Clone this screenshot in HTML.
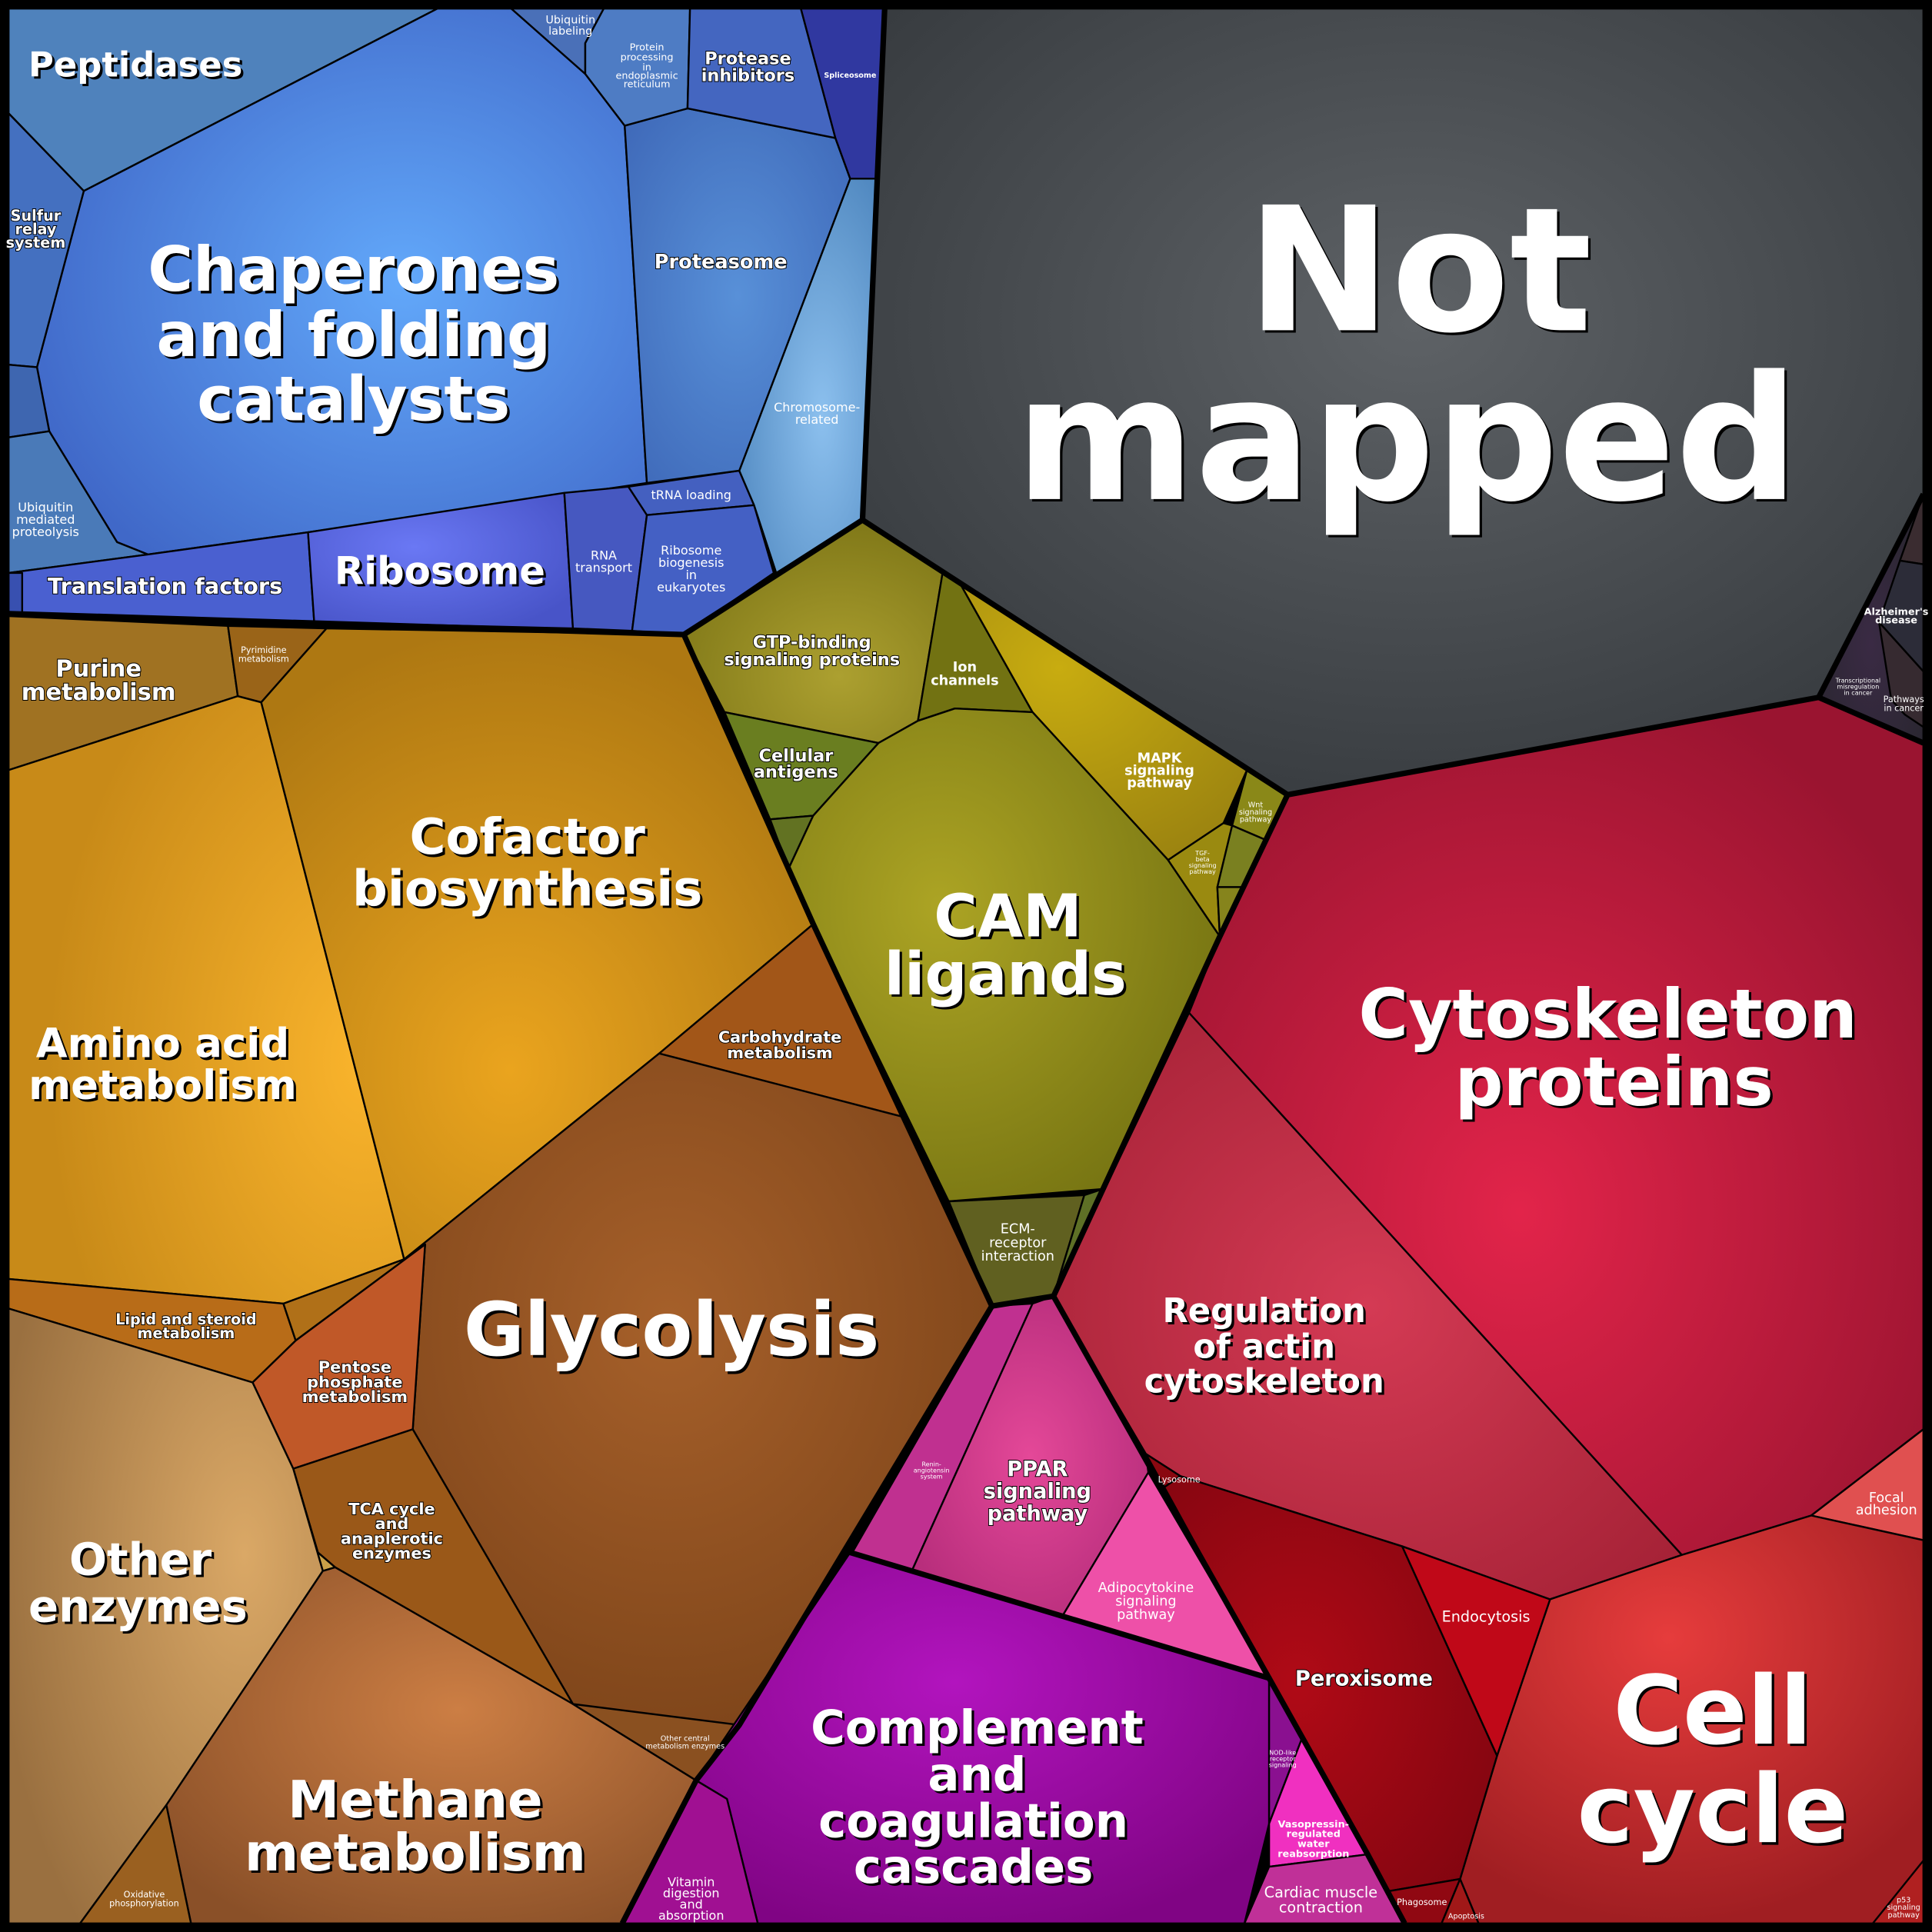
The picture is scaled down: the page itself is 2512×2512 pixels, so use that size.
<!DOCTYPE html>
<html><head><meta charset="utf-8"><style>
html,body{margin:0;padding:0;background:#000}
svg{display:block}
text{font-family:"DejaVu Sans","Liberation Sans",sans-serif;font-weight:bold;fill:#fff;text-anchor:middle}
.sh{fill:#000}
</style></head><body>
<svg width="2512" height="2512" viewBox="0 0 1568 1568" xmlns="http://www.w3.org/2000/svg">
<defs>
<radialGradient id="gNM" cx="0.52" cy="0.4" r="0.7"><stop offset="0" stop-color="#5e6266"/><stop offset="1" stop-color="#34383c"/></radialGradient>
<radialGradient id="gCh" cx="0.6" cy="0.5" r="0.65"><stop offset="0" stop-color="#62a8fa"/><stop offset="1" stop-color="#4068c8"/></radialGradient>
<radialGradient id="gBl" cx="0.5" cy="0.5" r="0.7"><stop offset="0" stop-color="#5890d8"/><stop offset="1" stop-color="#3e68b8"/></radialGradient>
<radialGradient id="gCr" cx="0.6" cy="0.6" r="0.7"><stop offset="0" stop-color="#8cc0ee"/><stop offset="1" stop-color="#5088c0"/></radialGradient>
<radialGradient id="gRb" cx="0.4" cy="0.4" r="0.7"><stop offset="0" stop-color="#6a78f4"/><stop offset="1" stop-color="#4854c8"/></radialGradient>
<radialGradient id="gAm" cx="0.9" cy="0.6" r="0.8"><stop offset="0" stop-color="#fab42c"/><stop offset="1" stop-color="#c88a18"/></radialGradient>
<radialGradient id="gCo" cx="0.45" cy="0.7" r="0.7"><stop offset="0" stop-color="#eaa41e"/><stop offset="1" stop-color="#ae7812"/></radialGradient>
<radialGradient id="gGl" cx="0.45" cy="0.4" r="0.7"><stop offset="0" stop-color="#a6602a"/><stop offset="1" stop-color="#7a4218"/></radialGradient>
<radialGradient id="gOE" cx="0.75" cy="0.4" r="0.8"><stop offset="0" stop-color="#daa866"/><stop offset="1" stop-color="#9a7040"/></radialGradient>
<radialGradient id="gMe" cx="0.55" cy="0.4" r="0.7"><stop offset="0" stop-color="#cc7e44"/><stop offset="1" stop-color="#8a5028"/></radialGradient>
<radialGradient id="gCAM" cx="0.35" cy="0.4" r="0.7"><stop offset="0" stop-color="#aca424"/><stop offset="1" stop-color="#767412"/></radialGradient>
<radialGradient id="gGTP" cx="0.6" cy="0.7" r="0.7"><stop offset="0" stop-color="#aca030"/><stop offset="1" stop-color="#807818"/></radialGradient>
<radialGradient id="gMA" cx="0.3" cy="0.3" r="0.8"><stop offset="0" stop-color="#c8ac10"/><stop offset="1" stop-color="#9a8210"/></radialGradient>
<radialGradient id="gPP" cx="0.5" cy="0.5" r="0.7"><stop offset="0" stop-color="#e44898"/><stop offset="1" stop-color="#ae2876"/></radialGradient>
<radialGradient id="gCp" cx="0.45" cy="0.35" r="0.7"><stop offset="0" stop-color="#b214be"/><stop offset="1" stop-color="#800484"/></radialGradient>
<radialGradient id="gCy" cx="0.45" cy="0.6" r="0.65"><stop offset="0" stop-color="#e2244a"/><stop offset="1" stop-color="#9a1430"/></radialGradient>
<radialGradient id="gRA" cx="0.5" cy="0.5" r="0.7"><stop offset="0" stop-color="#d43a54"/><stop offset="1" stop-color="#a22034"/></radialGradient>
<radialGradient id="gCC" cx="0.45" cy="0.3" r="0.7"><stop offset="0" stop-color="#e63c3c"/><stop offset="1" stop-color="#a01e22"/></radialGradient>
<radialGradient id="gPx" cx="0.4" cy="0.5" r="0.7"><stop offset="0" stop-color="#b00a16"/><stop offset="1" stop-color="#820510"/></radialGradient>
<radialGradient id="gDk" cx="0.5" cy="0.6" r="0.7"><stop offset="0" stop-color="#3a2a44"/><stop offset="1" stop-color="#28262e"/></radialGradient>
</defs>
<rect width="1568" height="1568" fill="#000"/>
<g stroke="#000" stroke-width="1.5" stroke-linejoin="round">
<polygon fill="url(#gNM)" points="718,7 1561,7 1561,401 1476,566 1045,645 780,475 700,422 712,145"/>
<polygon fill="url(#gDk)" points="1561,401 1561,603 1476,566"/>
<polygon fill="#3a2c30" points="1561,401 1561,458 1542,455"/>
<polygon fill="#2c2c38" points="1542,455 1561,458 1561,545 1525,505"/>
<polygon fill="#362a30" points="1525,505 1561,545 1561,590 1546,580 1535,568"/>
<!-- Blue group -->
<polygon fill="#4f82bc" points="7,7 355,7 68,155 7,92"/>
<polygon fill="url(#gCh)" points="68,155 355,7 415,7 475,60 507,102 525,392 250,432 120,450 95,440 40,350 30,298"/>
<polygon fill="#4470c0" points="7,92 68,155 30,298 7,296"/>
<polygon fill="#3e66b0" points="7,296 30,298 40,350 7,355"/>
<polygon fill="#4a7ab8" points="7,355 40,350 95,440 120,450 7,465"/>
<polygon fill="#4a60d0" points="7,465 120,450 250,432 255,505 7,500"/>
<polygon fill="#3850b0" points="7,465 18,465 18,500 7,500"/>
<polygon fill="url(#gRb)" points="250,432 458,400 465,510 255,505"/>
<polygon fill="#4658c0" points="458,400 510,395 525,418 513,512 465,510"/>
<polygon fill="#4460c0" points="510,395 600,382 612,410 525,418"/>
<polygon fill="#4460c4" points="525,418 612,410 628,465 555,515 513,512"/>
<polygon fill="url(#gCr)" points="600,382 690,145 712,145 700,422 630,465 612,410"/>
<polygon fill="url(#gBl)" points="507,102 558,88 678,112 690,145 600,382 525,392"/>
<polygon fill="#4a70b8" points="415,7 490,7 475,35 475,60"/>
<polygon fill="#4e7cc4" points="475,35 490,7 560,7 558,88 507,102 475,60"/>
<polygon fill="#4466c0" points="560,7 650,7 678,112 558,88"/>
<polygon fill="#3038a0" points="650,7 718,7 712,145 690,145 678,112"/>
<!-- Orange group -->
<polygon fill="#a07222" points="7,500 185,508 193,565 7,625"/>
<polygon fill="#9a6418" points="185,508 265,510 212,570 193,565"/>
<polygon fill="url(#gAm)" points="7,625 193,565 212,570 328,1022 230,1058 7,1038"/>
<polygon fill="url(#gCo)" points="212,570 265,510 555,515 660,750 535,855 328,1022"/>
<polygon fill="#a25618" points="535,855 660,750 735,907"/>
<polygon fill="url(#gGl)" points="328,1022 535,855 735,907 805,1060 600,1400 515,1395 465,1383 335,1160 345,1010"/>
<polygon fill="#b86c18" points="7,1038 230,1058 240,1088 205,1122 7,1062"/>
<polygon fill="#b07018" points="230,1058 328,1022 345,1010 240,1088"/>
<polygon fill="#c05828" points="205,1122 240,1088 345,1010 335,1160 238,1192"/>
<polygon fill="#9a5818" points="238,1192 335,1160 465,1383 272,1272 258,1260"/>
<polygon fill="#c8a048" points="238,1192 258,1260 272,1272 262,1275"/>
<polygon fill="url(#gOE)" points="7,1062 205,1122 238,1192 262,1275 135,1465 65,1561 7,1561"/>
<polygon fill="url(#gMe)" points="272,1272 465,1383 565,1445 505,1561 155,1561 135,1465 262,1275"/>
<polygon fill="#9a6020" points="135,1465 155,1561 65,1561"/>
<polygon fill="#8a5020" points="465,1383 600,1400 565,1445"/>
<!-- Olive group -->
<polygon fill="url(#gGTP)" points="555,515 700,422 765,465 745,585 713,603 588,578"/>
<polygon fill="#727212" points="765,465 780,475 838,578 775,575 745,585"/>
<polygon fill="url(#gMA)" points="780,475 1045,645 1012,625 993,668 948,698 838,578"/>
<polygon fill="#6a7e20" points="588,578 713,603 660,662 625,665"/>
<polygon fill="#627222" points="625,665 660,662 640,705"/>
<polygon fill="url(#gCAM)" points="713,603 745,585 775,575 838,578 948,698 990,760 895,965 770,975 660,750 640,705 660,662"/>
<polygon fill="#8a8818" points="1012,625 1045,645 1028,682 1000,670"/>
<polygon fill="#9a8a10" points="948,698 993,668 1000,670 988,720 990,760"/>
<polygon fill="#7a8020" points="1000,670 1028,682 1010,720 988,720"/>
<polygon fill="#86841c" points="988,720 1010,720 990,760"/>
<polygon fill="#606020" points="770,975 880,970 855,1052 805,1060"/>
<polygon fill="#5e7026" points="880,970 895,965 855,1052"/>
<!-- Pink group -->
<polygon fill="#c03090" points="805,1060 838,1058 740,1275 690,1260"/>
<polygon fill="url(#gPP)" points="838,1058 855,1052 930,1180 932,1195 862,1312 740,1275"/>
<polygon fill="#ee50a8" points="932,1195 1030,1362 862,1312"/>
<!-- Purple group -->
<polygon fill="url(#gCp)" points="690,1260 1030,1362 1030,1480 1010,1561 615,1561 590,1460 565,1445"/>
<polygon fill="#a01092" points="565,1445 590,1460 615,1561 505,1561"/>
<polygon fill="#8a1090" points="1030,1362 1057,1410 1030,1480"/>
<polygon fill="#f030c0" points="1057,1410 1110,1505 1030,1515 1030,1480"/>
<polygon fill="#c03098" points="1030,1515 1110,1505 1140,1561 1010,1561"/>
<!-- Red group -->
<polygon fill="url(#gCy)" points="1045,645 1476,566 1561,603 1561,1160 1470,1230 1365,1262 965,822 990,760"/>
<polygon fill="url(#gRA)" points="965,822 1365,1262 1258,1298 1138,1255 958,1198 930,1180 855,1052"/>
<polygon fill="#e05050" points="1470,1230 1561,1160 1561,1250"/>
<polygon fill="url(#gCC)" points="1258,1298 1365,1262 1470,1230 1561,1250 1561,1561 1200,1561 1185,1525 1215,1425"/>
<polygon fill="#8a0810" points="930,1180 958,1198 945,1207"/>
<polygon fill="url(#gPx)" points="945,1207 958,1198 1138,1255 1215,1425 1185,1525 1126,1535 1110,1505 1030,1362"/>
<polygon fill="#c00818" points="1138,1255 1258,1298 1215,1425"/>
<polygon fill="#900812" points="1126,1535 1185,1525 1170,1561 1140,1561"/>
<polygon fill="#a01818" points="1170,1561 1185,1525 1200,1561"/>
<polygon fill="#b02020" points="1520,1561 1561,1510 1561,1561"/>
</g>
<g fill="none" stroke="#000" stroke-width="4.5" stroke-linejoin="round">
<polyline points="7,498 555,515 700,422 712,145 718,7"/>
<polyline points="555,515 660,750 805,1060 855,1052 990,760 1045,645 700,422"/>
<polyline points="1045,645 1476,566 1561,603"/>
<polyline points="1476,566 1561,401"/>
<polyline points="805,1060 600,1400 565,1445 505,1561"/>
<polyline points="690,1260 1030,1362 1110,1505 1140,1561"/>
<polyline points="855,1052 1030,1362"/>
<polyline points="805,1060 690,1260"/>
</g>
<rect x="3.5" y="3.5" width="1561" height="1561" fill="none" stroke="#000" stroke-width="7"/>
<g id="labels">
<g transform="translate(2,2)">
<text class="sh" x="1152" y="268" font-size="140">Not</text>
<text class="sh" x="1142" y="405" font-size="140">mapped</text>
<text class="sh" x="287" y="236" font-size="50">Chaperones</text>
<text class="sh" x="287" y="289" font-size="50">and folding</text>
<text class="sh" x="287" y="341" font-size="50">catalysts</text>
<text class="sh" x="1305" y="842" font-size="55">Cytoskeleton</text>
<text class="sh" x="1310" y="897" font-size="55">proteins</text>
<text class="sh" x="1390" y="1415" font-size="77">Cell</text>
<text class="sh" x="1390" y="1495" font-size="77">cycle</text>
<text class="sh" x="545" y="1100" font-size="60">Glycolysis</text>
<text class="sh" x="818" y="760" font-size="48">CAM</text>
<text class="sh" x="816" y="807" font-size="48">ligands</text>
<text class="sh" x="793" y="1415" font-size="38">Complement</text>
<text class="sh" x="793" y="1453" font-size="38">and</text>
<text class="sh" x="790" y="1491" font-size="38">coagulation</text>
<text class="sh" x="790" y="1528" font-size="38">cascades</text>
<text class="sh" x="428" y="693" font-size="40">Cofactor</text>
<text class="sh" x="428" y="735" font-size="40">biosynthesis</text>
<text class="sh" x="132" y="858" font-size="33">Amino acid</text>
<text class="sh" x="132" y="892" font-size="33">metabolism</text>
<text class="sh" x="337" y="1475" font-size="42">Methane</text>
<text class="sh" x="337" y="1518" font-size="42">metabolism</text>
<text class="sh" x="114" y="1278" font-size="36">Other</text>
<text class="sh" x="112" y="1316" font-size="36">enzymes</text>
<text class="sh" x="1026" y="1073" font-size="27">Regulation</text>
<text class="sh" x="1026" y="1102" font-size="27">of actin</text>
<text class="sh" x="1026" y="1130" font-size="27">cytoskeleton</text>
<text class="sh" x="357" y="474" font-size="31">Ribosome</text>
<text class="sh" x="110" y="62" font-size="28">Peptidases</text>
</g>
<text x="1152" y="268" font-size="140">Not</text>
<text x="1142" y="405" font-size="140">mapped</text>
<text x="287" y="236" font-size="50">Chaperones</text>
<text x="287" y="289" font-size="50">and folding</text>
<text x="287" y="341" font-size="50">catalysts</text>
<text x="1305" y="842" font-size="55">Cytoskeleton</text>
<text x="1310" y="897" font-size="55">proteins</text>
<text x="1390" y="1415" font-size="77">Cell</text>
<text x="1390" y="1495" font-size="77">cycle</text>
<text x="545" y="1100" font-size="60">Glycolysis</text>
<text x="818" y="760" font-size="48">CAM</text>
<text x="816" y="807" font-size="48">ligands</text>
<text x="793" y="1415" font-size="38">Complement</text>
<text x="793" y="1453" font-size="38">and</text>
<text x="790" y="1491" font-size="38">coagulation</text>
<text x="790" y="1528" font-size="38">cascades</text>
<text x="428" y="693" font-size="40">Cofactor</text>
<text x="428" y="735" font-size="40">biosynthesis</text>
<text x="132" y="858" font-size="33">Amino acid</text>
<text x="132" y="892" font-size="33">metabolism</text>
<text x="337" y="1475" font-size="42">Methane</text>
<text x="337" y="1518" font-size="42">metabolism</text>
<text x="114" y="1278" font-size="36">Other</text>
<text x="112" y="1316" font-size="36">enzymes</text>
<text x="1026" y="1073" font-size="27">Regulation</text>
<text x="1026" y="1102" font-size="27">of actin</text>
<text x="1026" y="1130" font-size="27">cytoskeleton</text>
<text x="357" y="474" font-size="31">Ribosome</text>
<text x="110" y="62" font-size="28">Peptidases</text>
<g style="paint-order:stroke" stroke="#000" stroke-width="1.2">
<text x="134" y="482" font-size="18">Translation factors</text>
<text x="585" y="218" font-size="16">Proteasome</text>
<text x="607" y="52" font-size="14">Protease</text>
<text x="607" y="66" font-size="14">inhibitors</text>
<text x="80" y="549" font-size="19">Purine</text>
<text x="80" y="568" font-size="19">metabolism</text>
<text x="1107" y="1368" font-size="17">Peroxisome</text>
<text x="842" y="1198" font-size="17">PPAR</text>
<text x="842" y="1216" font-size="17">signaling</text>
<text x="842" y="1234" font-size="17">pathway</text>
<text x="659" y="526" font-size="14">GTP-binding</text>
<text x="659" y="540" font-size="14">signaling proteins</text>
<text x="646" y="618" font-size="14">Cellular</text>
<text x="646" y="631" font-size="14">antigens</text>
<text x="633" y="846" font-size="13">Carbohydrate</text>
<text x="633" y="859" font-size="13">metabolism</text>
<text x="288" y="1114" font-size="13">Pentose</text>
<text x="288" y="1126" font-size="13">phosphate</text>
<text x="288" y="1138" font-size="13">metabolism</text>
<text x="318" y="1229" font-size="13">TCA cycle</text>
<text x="318" y="1241" font-size="13">and</text>
<text x="318" y="1253" font-size="13">anaplerotic</text>
<text x="318" y="1265" font-size="13">enzymes</text>
<text x="151" y="1075" font-size="12">Lipid and steroid</text>
<text x="151" y="1086" font-size="12">metabolism</text>
<text x="29" y="179" font-size="12">Sulfur</text>
<text x="29" y="190" font-size="12">relay</text>
<text x="29" y="201" font-size="12">system</text>
</g>
<g>
<text x="1072" y="1540" font-size="12" style="font-weight:normal">Cardiac muscle</text>
<text x="1072" y="1552" font-size="12" style="font-weight:normal">contraction</text>
<text x="1206" y="1316" font-size="12" style="font-weight:normal">Endocytosis</text>
<text x="1531" y="1219" font-size="11" style="font-weight:normal">Focal</text>
<text x="1531" y="1229" font-size="11" style="font-weight:normal">adhesion</text>
<text x="930" y="1292" font-size="11" style="font-weight:normal">Adipocytokine</text>
<text x="930" y="1303" font-size="11" style="font-weight:normal">signaling</text>
<text x="930" y="1314" font-size="11" style="font-weight:normal">pathway</text>
<text x="826" y="1001" font-size="11" style="font-weight:normal">ECM-</text>
<text x="826" y="1012" font-size="11" style="font-weight:normal">receptor</text>
<text x="826" y="1023" font-size="11" style="font-weight:normal">interaction</text>
<text x="941" y="619" font-size="11">MAPK</text>
<text x="941" y="629" font-size="11">signaling</text>
<text x="941" y="639" font-size="11">pathway</text>
<text x="783" y="545" font-size="11">Ion</text>
<text x="783" y="556" font-size="11">channels</text>
<text x="561" y="450" font-size="10" style="font-weight:normal">Ribosome</text>
<text x="561" y="460" font-size="10" style="font-weight:normal">biogenesis</text>
<text x="561" y="470" font-size="10" style="font-weight:normal">in</text>
<text x="561" y="480" font-size="10" style="font-weight:normal">eukaryotes</text>
<text x="490" y="454" font-size="10" style="font-weight:normal">RNA</text>
<text x="490" y="464" font-size="10" style="font-weight:normal">transport</text>
<text x="561" y="405" font-size="10" style="font-weight:normal">tRNA loading</text>
<text x="663" y="334" font-size="10" style="font-weight:normal">Chromosome-</text>
<text x="663" y="344" font-size="10" style="font-weight:normal">related</text>
<text x="37" y="415" font-size="10" style="font-weight:normal">Ubiquitin</text>
<text x="37" y="425" font-size="10" style="font-weight:normal">mediated</text>
<text x="37" y="435" font-size="10" style="font-weight:normal">proteolysis</text>
<text x="463" y="19" font-size="9" style="font-weight:normal">Ubiquitin</text>
<text x="463" y="28" font-size="9" style="font-weight:normal">labeling</text>
<text x="525" y="41" font-size="8" style="font-weight:normal">Protein</text>
<text x="525" y="49" font-size="8" style="font-weight:normal">processing</text>
<text x="525" y="57" font-size="8" style="font-weight:normal">in</text>
<text x="525" y="64" font-size="8" style="font-weight:normal">endoplasmic</text>
<text x="525" y="71" font-size="8" style="font-weight:normal">reticulum</text>
<text x="690" y="63" font-size="6">Spliceosome</text>
<text x="214" y="530" font-size="7" style="font-weight:normal">Pyrimidine</text>
<text x="214" y="537" font-size="7" style="font-weight:normal">metabolism</text>
<text x="561" y="1531" font-size="10" style="font-weight:normal">Vitamin</text>
<text x="561" y="1540" font-size="10" style="font-weight:normal">digestion</text>
<text x="561" y="1549" font-size="10" style="font-weight:normal">and</text>
<text x="561" y="1558" font-size="10" style="font-weight:normal">absorption</text>
<text x="1066" y="1483" font-size="8">Vasopressin-</text>
<text x="1066" y="1491" font-size="8">regulated</text>
<text x="1066" y="1499" font-size="8">water</text>
<text x="1066" y="1507" font-size="8">reabsorption</text>
<text x="1539" y="499" font-size="8">Alzheimer's</text>
<text x="1539" y="506" font-size="8">disease</text>
<text x="1545" y="570" font-size="7" style="font-weight:normal">Pathways</text>
<text x="1545" y="577" font-size="7" style="font-weight:normal">in cancer</text>
<text x="1508" y="554" font-size="5" style="font-weight:normal">Transcriptional</text>
<text x="1508" y="559" font-size="5" style="font-weight:normal">misregulation</text>
<text x="1508" y="564" font-size="5" style="font-weight:normal">in cancer</text>
<text x="556" y="1413" font-size="6" style="font-weight:normal">Other central</text>
<text x="556" y="1419" font-size="6" style="font-weight:normal">metabolism enzymes</text>
<text x="117" y="1540" font-size="7" style="font-weight:normal">Oxidative</text>
<text x="117" y="1547" font-size="7" style="font-weight:normal">phosphorylation</text>
<text x="957" y="1203" font-size="7" style="font-weight:normal">Lysosome</text>
<text x="1154" y="1546" font-size="7" style="font-weight:normal">Phagosome</text>
<text x="1190" y="1557" font-size="6" style="font-weight:normal">Apoptosis</text>
<text x="1545" y="1544" font-size="6" style="font-weight:normal">p53</text>
<text x="1545" y="1550" font-size="6" style="font-weight:normal">signaling</text>
<text x="1545" y="1556" font-size="6" style="font-weight:normal">pathway</text>
<text x="1019" y="655" font-size="6" style="font-weight:normal">Wnt</text>
<text x="1019" y="661" font-size="6" style="font-weight:normal">signaling</text>
<text x="1019" y="667" font-size="6" style="font-weight:normal">pathway</text>
<text x="976" y="694" font-size="5" style="font-weight:normal">TGF-</text>
<text x="976" y="699" font-size="5" style="font-weight:normal">beta</text>
<text x="976" y="704" font-size="5" style="font-weight:normal">signaling</text>
<text x="976" y="709" font-size="5" style="font-weight:normal">pathway</text>
<text x="756" y="1190" font-size="5" style="font-weight:normal">Renin-</text>
<text x="756" y="1195" font-size="5" style="font-weight:normal">angiotensin</text>
<text x="756" y="1200" font-size="5" style="font-weight:normal">system</text>
<text x="1041" y="1424" font-size="5" style="font-weight:normal">NOD-like</text>
<text x="1041" y="1429" font-size="5" style="font-weight:normal">receptor</text>
<text x="1041" y="1434" font-size="5" style="font-weight:normal">signaling</text>
</g>
</g>
</svg>
</body></html>
